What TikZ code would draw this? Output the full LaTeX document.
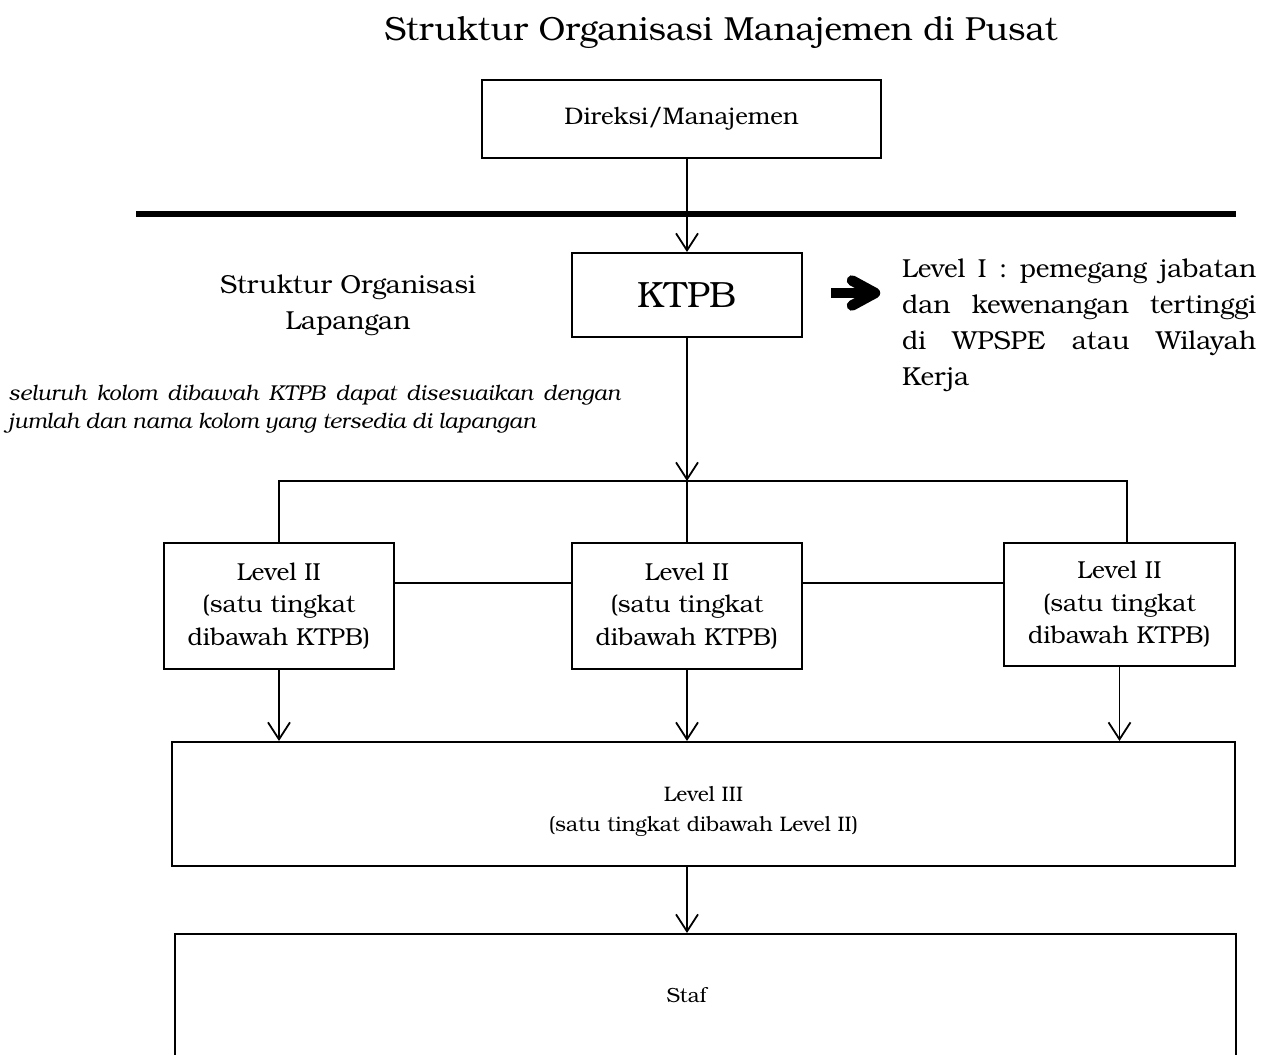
\documentclass[tikz,border=0pt]{standalone}
\usepackage{fontspec}
\setmainfont{TeX Gyre Bonum}
\usetikzlibrary{positioning, arrows.meta, calc}

\tikzset{
	box/.style={draw, line width=2pt, inner sep=0pt, align=center},
	conn/.style={line width=1.8pt},
	arr/.style={conn, -{Straight Barb[length=17pt, width=22pt, line width=1.8pt]}},
	levelfont/.style={font=\fontsize{24.5}{32.5}\selectfont},
	smallfont/.style={font=\fontsize{21}{30}\selectfont}
}

\begin{document}
\begin{tikzpicture}[x=1pt, y=-1pt]
		\useasboundingbox (0,0) rectangle (1262,1055);
		\clip (0,0) rectangle (1262,1055);

		% Judul dan kotak atas
		\node (judul) at (721,33) {\fontsize{33.4}{40}\selectfont Struktur Organisasi Manajemen di Pusat};
		\node[box, minimum width=399pt, minimum height=78pt, font=\fontsize{24}{28}\selectfont] (dir) at (681.5,119) {Direksi/Manajemen};
		\draw[line width=6pt] (136,214) -- (1236,214);

		% KTPB dan keterangan
		\node[box, minimum width=230pt, minimum height=84pt, font=\fontsize{36.5}{42}\selectfont] (ktpb) at (687,295) {KTPB};
		\node[font=\fontsize{26}{36}\selectfont, align=center] (lap) at (348,305) {Struktur Organisasi\\Lapangan};
		\node[font=\fontsize{26}{36}\selectfont, text width=354pt, align=justify, inner sep=0pt, anchor=north west] (lvl1) at (902,259)
			{Level I : pemegang jabatan\linebreak dan kewenangan tertinggi\linebreak di WPSPE atau Wilayah\linebreak Kerja};
		\node[font=\fontsize{21.5}{28}\selectfont\itshape, text width=612pt, align=justify, inner sep=0pt, anchor=north west] (catatan) at (8,385)
			{seluruh kolom dibawah KTPB dapat disesuaikan dengan\linebreak jumlah dan nama kolom yang tersedia di lapangan};
		\coordinate (panah) at (831,293);
		\draw[line width=10pt] (panah) -- ++(40,0);
		\draw[line width=10.5pt, line cap=round, line join=round] ($(panah)+(21,-12.5)$) -- ($(panah)+(44,0)$) -- ($(panah)+(21,12.5)$);

		% Level II
		\node[box, levelfont, minimum width=230pt, minimum height=126pt] (l2a) at (279,606) {Level II\\(satu tingkat\\dibawah KTPB)};
		\node[box, levelfont, minimum width=230pt, minimum height=126pt] (l2b) at (687,606) {Level II\\(satu tingkat\\dibawah KTPB)};
		\node[box, levelfont, minimum width=231pt, minimum height=123pt] (l2c) at (1119.5,604.5) {Level II\\(satu tingkat\\dibawah KTPB)};

		% Level III dan staf
		\node[box, minimum width=1063pt, minimum height=124pt] (l3) at (703.5,804) {};
		\node[smallfont, align=center] (l3txt) at (703.5,811) {Level III\\(satu tingkat dibawah Level II)};
		\node[box, minimum width=1061pt, minimum height=240pt] (staf) at (705.5,1054) {};
		\node[font=\fontsize{20.5}{24}\selectfont] (staftxt) at (686.5,995) {Staf};

		% Garis penghubung
		\coordinate (bus) at (687,481);
		\coordinate (busR) at (1127,481);
		\draw[arr] (ktpb.north |- dir.south) -- (ktpb.north);
		\draw[arr] (ktpb) -- (bus);
		\draw[conn] (l2a.north) |- (busR) -- (busR |- l2c.north);
		\draw[conn] (bus) -- (l2b);
		\draw[conn] ([yshift=23pt]l2a.east) -- ([yshift=23pt]l2b.west);
		\draw[conn] ([yshift=23pt]l2b.east) -- ([yshift=23pt]l2b.east -| l2c.west);
		\draw[arr] (l2a) -- (l2a |- l3.north);
		\draw[arr] (l2b) -- (l2b |- l3.north);
		\draw[arr] (l2c) -- (l2c |- l3.north);
		\draw[arr] (l3.south -| ktpb) -- (staf.north -| ktpb);
	\end{tikzpicture}
\end{document}
